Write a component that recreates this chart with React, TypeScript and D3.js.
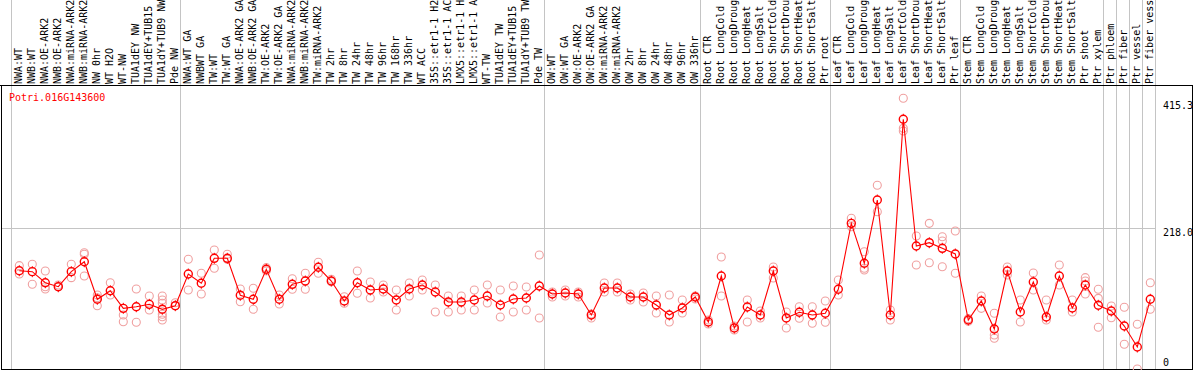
import React from 'react';
import * as d3 from 'd3';

const W = 1194;
const H = 370;
const geneId = 'Potri.016G143600';

const categories = [
  'NWA:WT', 'NWB:WT', 'NWA:OE-ARK2', 'NWB:OE-ARK2', 'NWA:miRNA-ARK2', 'NWB:miRNA-ARK2', 'NW 0hr', 'WT H2O', 'WT-NW',
  'TUA1dEY NW', 'TUA1dEY+TUB15 NW', 'TUA1dY+TUB9 NW', 'Pde NW',
  'NWA:WT GA', 'NWBWT GA', 'TW:WT', 'TW:WT GA', 'NWA:OE-ARK2 GA', 'NWB:OE-ARK2 GA', 'TW:OE-ARK2', 'TW:OE-ARK2 GA',
  'NWA:miRNA-ARK2', 'NWB:miRNA-ARK2', 'TW:miRNA-ARK2', 'TW 2hr', 'TW 8hr', 'TW 24hr', 'TW 48hr', 'TW 96hr', 'TW 168hr',
  'TW 336hr', 'WT ACC', '35S::etr1-1 H2O', '35S::etr1-1 ACC', 'LMX5::etr1-1 H2O', 'LMX5::etr1-1 ACC', 'WT-TW',
  'TUA1dEY TW', 'TUA1dEY+TUB15 TW', 'TUA1dY+TUB9 TW', 'Pde TW',
  'OW:WT', 'OW:WT GA', 'OW:OE-ARK2', 'OW:OE-ARK2 GA', 'OW:miRNA-ARK2', 'OW:miRNA-ARK2', 'OW 2hr', 'OW 8hr', 'OW 24hr',
  'OW 48hr', 'OW 96hr', 'OW 336hr',
  'Root CTR', 'Root LongCold', 'Root LongDrought', 'Root LongHeat', 'Root LongSalt', 'Root ShortCold', 'Root ShortDrought',
  'Root ShortHeat', 'Root ShortSalt', 'Ptr root',
  'Leaf CTR', 'Leaf LongCold', 'Leaf LongDrought', 'Leaf LongHeat', 'Leaf LongSalt', 'Leaf ShortCold', 'Leaf ShortDrought',
  'Leaf ShortHeat', 'Leaf ShortSalt', 'Ptr leaf',
  'Stem CTR', 'Stem LongCold', 'Stem LongDrought', 'Stem LongHeat', 'Stem LongSalt', 'Stem ShortCold', 'Stem ShortDrought',
  'Stem ShortHeat', 'Stem ShortSalt', 'Ptr shoot', 'Ptr xylem',
  'Ptr phloem', 'Ptr fiber', 'Ptr vessel', 'Ptr fiber vessel',
];

const groupSizes = [13, 28, 12, 10, 10, 11, 1, 1, 1, 1];

const meanValues = [
  152.3, 150.8, 133.7, 127.5, 150.8, 166.2, 108.0, 121.3, 94.0, 96.5, 100.2, 92.5, 98.1,
  147.2, 132.8, 171.5, 171.5, 114.2, 108.0, 154.5, 108.0, 131.2, 136.3, 157.6, 136.3, 105.4, 133.7,
  122.4, 124.0, 106.9, 124.0, 130.1, 119.3, 103.8, 103.8, 106.9, 113.1, 99.2, 108.5, 110.0, 128.6,
  116.2, 117.8, 116.2, 83.7, 125.5, 125.5, 111.6, 111.6, 99.2, 83.7, 94.5, 111.6,
  72.8, 144.1, 63.5, 96.1, 83.7, 151.8, 79.0, 87.9, 83.7, 86.3,
  123.5, 225.7, 163.8, 261.8, 83.7, 386.9, 190.6, 195.7, 187.0, 178.2,
  75.9, 105.4, 62.0, 151.8, 88.3, 134.8, 80.6, 144.1, 94.5, 130.1, 98.7,
  89.9, 66.6, 34.1, 108.0,
];

const replicateValues = [
  [160.1, 147.2], [162.2, 131.2], [151.8, 127.5, 124.0], [130.1, 127.5], [162.2, 141.5], [180.2, 177.7, 144.1],
  [114.7, 98.1, 110.5], [133.7, 114.7], [83.7, 73.3], [124.0, 72.4], [113.1, 91.4],
  [113.1, 106.9, 101.8, 84.8, 81.0, 75.9], [102.7, 98.1],
  [170.0, 122.4], [148.3, 116.2], [184.4, 156.0], [177.7, 170.0], [124.0, 104.3], [125.0, 92.5], [152.0, 157.0],
  [114.7, 100.7], [139.9, 123.5], [148.3, 123.5], [165.3, 148.3], [139.0, 135.3], [112.0, 101.8], [151.8, 117.3],
  [134.8, 110.0], [130.1, 119.3], [122.4, 91.4], [133.2, 113.1], [137.9, 122.4], [130.1, 88.3], [113.1, 88.3],
  [113.1, 91.4], [122.4, 91.4], [130.1, 102.3], [122.4, 80.6], [128.6, 88.3], [127.1, 91.4], [176.6, 79.0],
  [119.3, 111.6], [122.4, 113.1], [119.3, 111.6], [85.2, 79.0], [133.2, 119.3], [133.2, 119.3], [116.2, 106.9],
  [117.8, 103.8], [113.1, 86.8], [114.7, 72.8], [106.9, 86.8], [113.1, 108.5],
  [75.9, 69.7], [173.5, 113.1], [66.6, 60.4], [106.9, 72.8], [89.9, 79.0], [158.0, 141.0], [88.3, 63.5],
  [96.5, 78.6], [96.5, 70.8], [105.4, 72.4],
  [137.9, 114.7], [233.5, 220.5], [181.7, 156.0, 153.4], [284.6, 243.7], [91.4, 75.9], [419.4, 372.9, 368.8],
  [206.1, 161.1], [225.7, 164.7], [205.0, 198.3, 158.5], [213.8, 148.3],
  [78.0, 74.0], [113.1, 94.0], [86.3, 52.7, 47.6], [158.0, 145.6], [106.9, 72.8], [148.7, 122.4], [106.9, 75.9],
  [161.1, 130.1], [106.9, 88.3], [141.5, 136.3, 116.2], [123.5, 109.5, 64.6],
  [97.6, 79.5], [95.6, 38.3], [69.3, 0], [133.7, 92.5],
];

const yTicks = [0, 218.0, 415.3];

const FONT = "'DejaVu Sans Mono', 'Liberation Mono', monospace";

export default function App() {
  const colW = 13;
  const x0 = 11.5;
  const idx = categories.map((_, i) => i);
  const x = d3.scaleBand<number>().domain(idx).range([x0, x0 + colW * categories.length]);
  const y = d3.scaleLinear().domain([0, 218]).range([369, 228.3]);
  const px = (i: number) => (x(i) as number) + 7.8;

  const bounds: number[] = [0];
  groupSizes.reduce((acc, s) => {
    bounds.push(acc + s);
    return acc + s;
  }, 0);
  const boundX = (b: number) => x.range()[0] + b * x.bandwidth();

  const line = d3
    .line<number>()
    .x((_, i) => px(i))
    .y((d) => y(d));

  const gridY = Math.round(y(218)) + 0.5;

  return (
    <svg width={W} height={H} style={{ position: 'absolute', left: 0, top: 0, background: '#fff' }}>
      <rect x={0} y={0} width={W} height={H} fill="#fff" />
      {bounds.map((b, i) => (
        <line key={'v' + i} x1={boundX(b)} x2={boundX(b)} y1={0} y2={369} stroke="#c4c4c4" strokeWidth={1} />
      ))}
      <line x1={2} x2={boundX(categories.length)} y1={gridY} y2={gridY} stroke="#c4c4c4" strokeWidth={1} />
      <line x1={0} x2={1193} y1={85.5} y2={85.5} stroke="#000" strokeWidth={1} />
      <line x1={1.5} x2={1.5} y1={85.5} y2={370} stroke="#000" strokeWidth={1} />
      <line x1={1192.5} x2={1192.5} y1={85.5} y2={370} stroke="#000" strokeWidth={1} />
      <line x1={1} x2={1193} y1={369.5} y2={369.5} stroke="#000" strokeWidth={1} />

      {categories.map((c, i) => (
        <text
          key={'l' + i}
          transform={`translate(${px(i) + 2.8},84) rotate(-90)`}
          fontFamily={FONT}
          fontSize={10}
          fill="#000"
        >
          {c}
        </text>
      ))}

      <text x={9} y={101} fontFamily={FONT} fontSize={10} fill="#ff0000">
        {geneId}
      </text>

      {yTicks.map((t, i) => (
        <text
          key={'t' + i}
          x={1163}
          y={t === 0 ? y(t) - 3 : y(t) + 8}
          fontFamily={FONT}
          fontSize={10}
          fill="#000"
        >
          {t === 0 ? '0' : t.toFixed(1)}
        </text>
      ))}

      {replicateValues.map((reps, i) =>
        reps.map((v, j) => (
          <circle key={`r${i}-${j}`} cx={px(i)} cy={y(v)} r={4} fill="none" stroke="#f0a0a0" strokeWidth={1.1} />
        ))
      )}

      <path d={line(meanValues) || ''} fill="none" stroke="#ff0000" strokeWidth={1.1} />

      {meanValues.map((v, i) => (
        <g key={'m' + i}>
          <circle cx={px(i)} cy={y(v)} r={4} fill="none" stroke="#ff0000" strokeWidth={1.4} />
          <line x1={px(i)} x2={px(i)} y1={y(v) - 5.5} y2={y(v) - 4} stroke="#ff0000" strokeWidth={1} />
          <line x1={px(i)} x2={px(i)} y1={y(v) + 4} y2={y(v) + 5.5} stroke="#ff0000" strokeWidth={1} />
        </g>
      ))}
    </svg>
  );
}
